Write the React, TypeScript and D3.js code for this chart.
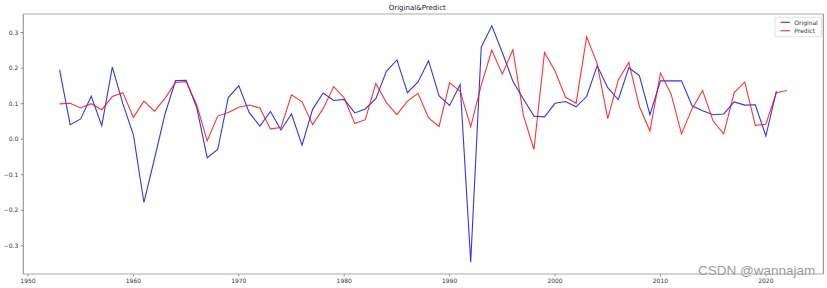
import React from "react";
import * as d3 from "d3";

const years: number[] = d3.range(1953, 2023);

const original: number[] = [
  0.195, 0.041, 0.057, 0.121, 0.038, 0.203, 0.10, 0.012, -0.178, -0.055,
  0.071, 0.165, 0.166, 0.09, -0.052, -0.029, 0.117, 0.150, 0.074, 0.037,
  0.078, 0.026, 0.071, -0.017, 0.084, 0.130, 0.109, 0.112, 0.074, 0.085,
  0.114, 0.191, 0.223, 0.131, 0.161, 0.221, 0.122, 0.095, 0.154, -0.346,
  0.259, 0.319, 0.244, 0.163, 0.113, 0.065, 0.063, 0.101, 0.106, 0.091,
  0.120, 0.207, 0.145, 0.111, 0.201, 0.179, 0.069, 0.164, 0.164, 0.164,
  0.094, 0.080, 0.069, 0.071, 0.105, 0.096, 0.097, 0.009, 0.135,
];

const predict: number[] = [
  0.0995, 0.101, 0.088, 0.100, 0.083, 0.12, 0.131, 0.061, 0.107, 0.079,
  0.115, 0.16, 0.162, 0.097, -0.005, 0.065, 0.075, 0.09, 0.096, 0.088,
  0.029, 0.033, 0.125, 0.105, 0.041, 0.086, 0.148, 0.116, 0.044, 0.055,
  0.157, 0.103, 0.069, 0.107, 0.129, 0.060, 0.036, 0.159, 0.135, 0.035,
  0.152, 0.251, 0.183, 0.252, 0.067, -0.029, 0.244, 0.192, 0.118, 0.101,
  0.288, 0.212, 0.058, 0.167, 0.216, 0.092, 0.023, 0.186, 0.128, 0.015,
  0.086, 0.137, 0.051, 0.015, 0.131, 0.161, 0.039, 0.042, 0.131, 0.137,
];

const xTicks: number[] = [1950, 1960, 1970, 1980, 1990, 2000, 2010, 2020];
const yTicks: number[] = [-0.3, -0.2, -0.1, 0.0, 0.1, 0.2, 0.3];

const W = 827;
const H = 288;
const L = 23.25;
const R = 823.3;
const T = 14;
const B = 274;

export default function App() {
  const x = d3.scaleLinear().domain([1949.55, 2025.45]).range([L, R]);
  const allV = original.concat(predict);
  const lo = d3.min(allV)!;
  const hi = d3.max(allV)!;
  const pad = (hi - lo) * 0.05;
  const y = d3.scaleLinear().domain([lo - pad, hi + pad]).range([B, T]);

  const line = d3
    .line<number>()
    .x((_, i) => x(years[i]))
    .y((d) => y(d));

  const font = "DejaVu Sans, sans-serif";

  return (
    <svg
      width={W}
      height={H}
      style={{ position: "absolute", left: 0, top: 0, background: "#fff" }}
    >
      <rect x={0} y={0} width={W} height={H} fill="#fff" />
      <text x={(L + R) / 2 - 6} y={10} textAnchor="middle" fontSize={7} fontFamily={font} fill="#222">
        Original&amp;Predict
      </text>

      {xTicks.map((t) => (
        <g key={"x" + t}>
          <line x1={x(t)} x2={x(t)} y1={B} y2={B + 2.5} stroke="#444" strokeWidth={0.6} />
          <text x={x(t)} y={B + 9} textAnchor="middle" fontSize={6} fontFamily={font} fill="#333">
            {t}
          </text>
        </g>
      ))}
      {yTicks.map((t) => (
        <g key={"y" + t}>
          <line x1={L - 2.5} x2={L} y1={y(t)} y2={y(t)} stroke="#444" strokeWidth={0.6} />
          <text x={L - 5} y={y(t) + 2} textAnchor="end" fontSize={6} fontFamily={font} fill="#333">
            {t < 0 ? "\u2212" + Math.abs(t).toFixed(1) : t.toFixed(1)}
          </text>
        </g>
      ))}

      <path d={line(original) || ""} fill="none" stroke="#0000ff" strokeOpacity={0.8} strokeWidth={1.1} />
      <path d={line(predict) || ""} fill="none" stroke="#ff0000" strokeOpacity={0.8} strokeWidth={1.1} />

      <line x1={L} x2={R} y1={T} y2={T} stroke="#aaa" strokeWidth={1.2} />
      <line x1={L} x2={R} y1={B} y2={B} stroke="#aaa" strokeWidth={1.2} />
      <line x1={L} x2={L} y1={T} y2={B} stroke="#666" strokeWidth={0.8} />
      <line x1={R} x2={R} y1={T} y2={B} stroke="#666" strokeWidth={0.8} />

      <g>
        <rect x={775} y={17.3} width={46.5} height={19.4} rx={1.5} fill="#fff" stroke="#ccc" strokeWidth={0.6} />
        <line x1={780.5} x2={790} y1={22.3} y2={22.3} stroke="#0000ff" strokeOpacity={0.8} strokeWidth={1.1} />
        <text x={794.3} y={24.5} fontSize={6} fontFamily={font} fill="#333">Original</text>
        <line x1={780.5} x2={790} y1={30.7} y2={30.7} stroke="#ff0000" strokeOpacity={0.8} strokeWidth={1.1} />
        <text x={794.3} y={32.9} fontSize={6} fontFamily={font} fill="#333">Predict</text>
      </g>

      <text x={698} y={275} fontSize={13.5} fontFamily="Arial, Liberation Sans, sans-serif" fill="#9a9a9a" stroke="#fff" strokeWidth={0.4} paintOrder="stroke">
        CSDN @wannajam
      </text>
    </svg>
  );
}
